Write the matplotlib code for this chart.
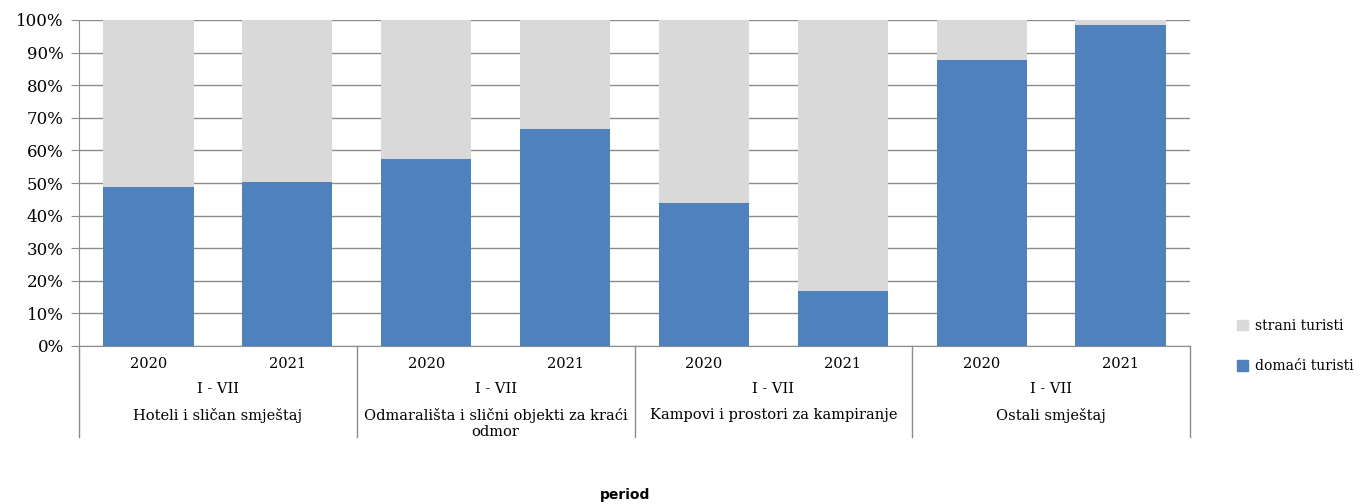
import numpy as np
import matplotlib.pyplot as plt
from matplotlib.patches import Patch
from matplotlib.ticker import PercentFormatter

# data (percent share)
years = ['2020', '2021'] * 4
period = 'I - VII'
groups = ['Hoteli i sličan smještaj',
          'Odmarališta i slični objekti za kraći\nodmor',
          'Kampovi i prostori za kampiranje',
          'Ostali smještaj']
domaci = [48.7, 50.3, 57.4, 66.6, 43.9, 16.9, 87.7, 98.5]
strani = [100 - v for v in domaci]

blue = '#4F81BD'
grey = '#D9D9D9'
serif = ['DejaVu Serif']

fig = plt.figure(figsize=(13.6, 5.04), dpi=100)
ax = fig.add_axes([79 / 1360, 1 - 346 / 504, (1190 - 79) / 1360, 326 / 504])

x = np.arange(len(domaci))
ax.bar(x, domaci, width=0.65, color=blue, zorder=2)
ax.bar(x, strani, width=0.65, bottom=domaci, color=grey, zorder=2)

ax.set_xlim(-0.5, len(domaci) - 0.5)
ax.set_ylim(0, 100)
ax.set_yticks(np.arange(0, 101, 10))
ax.yaxis.set_major_formatter(PercentFormatter(decimals=0))
ax.grid(axis='y', color='#8c8c8c', linewidth=1.0, zorder=0)
ax.set_axisbelow(True)
for s in ['top', 'right']:
    ax.spines[s].set_visible(False)
for s in ['left', 'bottom']:
    ax.spines[s].set_color('#8c8c8c')
ax.tick_params(axis='y', length=6, color='#8c8c8c', labelsize=12, pad=5)
ax.tick_params(axis='x', length=0, labelbottom=False)
for lbl in ax.get_yticklabels():
    lbl.set_family(serif)

# multi-level category labels below the axis
tr = ax.get_xaxis_transform()
for i, y in enumerate(years):
    ax.text(i, -0.055, y, transform=tr, ha='center', va='center',
            fontsize=10.5, family=serif, clip_on=False)
for g, name in enumerate(groups):
    cx = 2 * g + 0.5
    ax.text(cx, -0.132, period, transform=tr, ha='center', va='center',
            fontsize=10.5, family=serif, clip_on=False)
    ax.text(cx, -0.19, name, transform=tr, ha='center', va='top',
            fontsize=10.5, family=serif, linespacing=1.2, clip_on=False)
for b in np.arange(-0.5, len(domaci), 2):
    ax.plot([b, b], [0, -0.279], transform=tr, color='#8c8c8c',
            linewidth=1.0, clip_on=False)

handles = [Patch(color=grey, label='strani turisti'),
           Patch(color=blue, label='domaći turisti')]
fig.legend(handles=handles, loc='center left',
           bbox_to_anchor=(1224 / 1360, 1 - 346 / 504), frameon=False,
           prop={'family': serif, 'size': 10}, handlelength=0.8,
           handleheight=0.8, handletextpad=0.5, labelspacing=1.9)

fig.text(625 / 1360, 1 - 495 / 504, 'period', ha='center', va='center',
         fontsize=10, fontweight='bold')

fig.savefig('out.png', dpi=100)
